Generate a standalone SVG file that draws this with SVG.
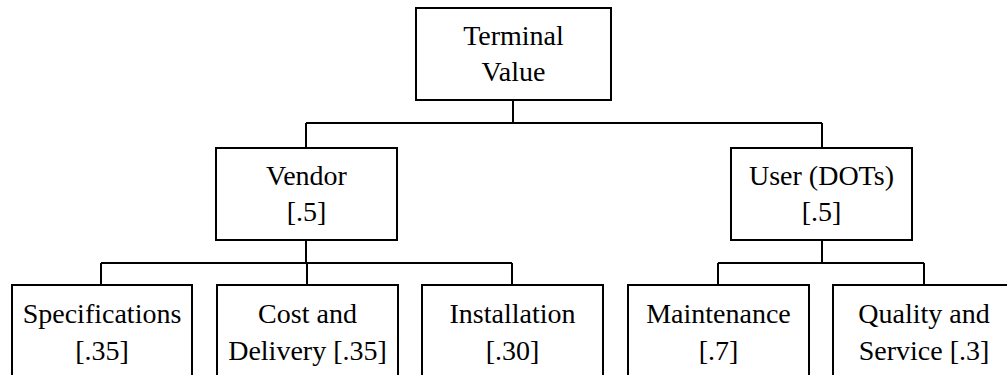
<svg xmlns="http://www.w3.org/2000/svg" width="1007" height="375" viewBox="0 0 1007 375">
<style>
.box{fill:#fff;stroke:#000;stroke-width:2}
.ln{fill:none;stroke:#000;stroke-width:2}
.t{font-size:28px;fill:#000;text-anchor:middle}
</style>
<rect width="1007" height="375" fill="#fff"/>
<g id="connectors">
<path class="ln" d="M513,100V123M306,123H822M306,123V148M822,123V148"/>
<path class="ln" d="M306,240V263M101,263H512M101,263V285M307,263V285M512,263V285"/>
<path class="ln" d="M822,240V263M718,263H924M718,263V285M924,263V285"/>
</g>
<g font-family="Liberation Serif, DejaVu Serif, serif" class="t">
<g id="terminal"><rect class="box" x="416" y="8" width="195" height="92"/><text x="513.5" y="45">Terminal</text><text x="513.5" y="81">Value</text></g>
<g id="vendor"><rect class="box" x="216" y="148" width="181" height="92"/><text x="306.5" y="185">Vendor</text><text x="306.5" y="221">[.5]</text></g>
<g id="user"><rect class="box" x="731" y="148" width="181" height="92"/><text x="821.5" y="185">User (DOTs)</text><text x="821.5" y="221">[.5]</text></g>
<g id="specifications"><rect class="box" x="12" y="285" width="180" height="100"/><text x="102" y="323">Specifications</text><text x="102" y="360">[.35]</text></g>
<g id="cost"><rect class="box" x="217" y="285" width="181" height="100"/><text x="307.5" y="323">Cost and</text><text x="307.5" y="360">Delivery [.35]</text></g>
<g id="installation"><rect class="box" x="422" y="285" width="181" height="100"/><text x="512.5" y="323">Installation</text><text x="512.5" y="360">[.30]</text></g>
<g id="maintenance"><rect class="box" x="628" y="285" width="181" height="100"/><text x="718.5" y="323">Maintenance</text><text x="718.5" y="360">[.7]</text></g>
<g id="quality"><rect class="box" x="833" y="285" width="182" height="100"/><text x="924" y="323">Quality and</text><text x="924" y="360">Service [.3]</text></g>
</g>
</svg>
